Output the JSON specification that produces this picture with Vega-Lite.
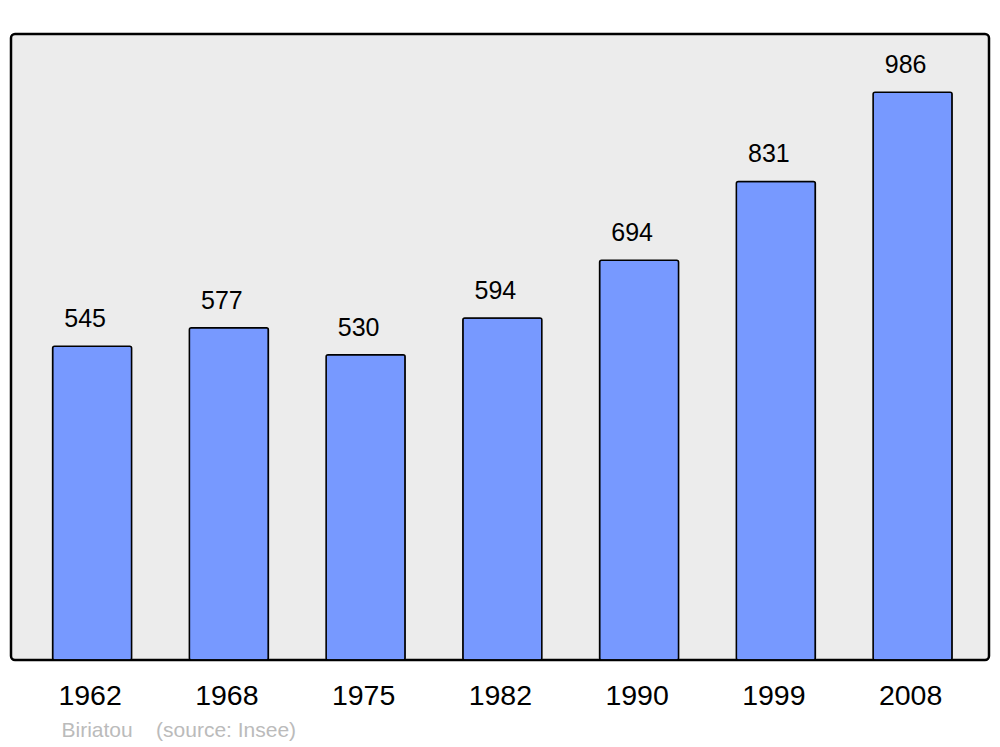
{
  "$schema": "https://vega.github.io/schema/vega-lite/v6.json",
  "width": 978,
  "height": 626,
  "autosize": {"type": "none"},
  "padding": {"left": 11, "top": 34, "right": 11, "bottom": 87},
  "background": "#ffffff",
  "config": {
    "view": {"fill": "#ececec", "stroke": "#000000", "strokeWidth": 2.5, "cornerRadius": 4},
    "font": "Liberation Sans"
  },
  "data": {
    "values": [
      {"year": "1962", "population": 545},
      {"year": "1968", "population": 577},
      {"year": "1975", "population": 530},
      {"year": "1982", "population": 594},
      {"year": "1990", "population": 694},
      {"year": "1999", "population": 831},
      {"year": "2008", "population": 986}
    ]
  },
  "encoding": {
    "x": {
      "field": "year",
      "type": "nominal",
      "sort": null,
      "scale": {"paddingInner": 0.422, "paddingOuter": 0.287, "align": 0.53},
      "axis": {
        "title": "Biriatou\u00a0\u00a0\u00a0\u00a0(source: Insee)",
        "titleFont": "Liberation Sans",
        "titleFontSize": 21,
        "titleFontWeight": "normal",
        "titleColor": "#bbbbbb",
        "titleAnchor": "start",
        "titleAlign": "left",
        "titleBaseline": "alphabetic",
        "titleX": 50,
        "titleY": 76,
        "labelAngle": 0,
        "labelFontSize": 28.5,
        "labelColor": "#000000",
        "labelFont": "Liberation Sans",
        "labelPadding": 21,
        "labelOffset": -2,
        "ticks": false,
        "domain": false,
        "grid": false
      }
    },
    "y": {
      "field": "population",
      "type": "quantitative",
      "scale": {"domain": [0, 1087], "nice": false, "zero": true},
      "axis": null
    }
  },
  "layer": [
    {
      "mark": {"type": "bar", "fill": "#7799ff", "stroke": "#000000", "strokeWidth": 1.5, "cornerRadius": 2}
    },
    {
      "mark": {"type": "text", "fontSize": 25, "color": "#000000", "baseline": "alphabetic", "dy": -19, "dx": -7, "font": "Liberation Sans"},
      "encoding": {"text": {"field": "population", "type": "quantitative"}}
    }
  ]
}
